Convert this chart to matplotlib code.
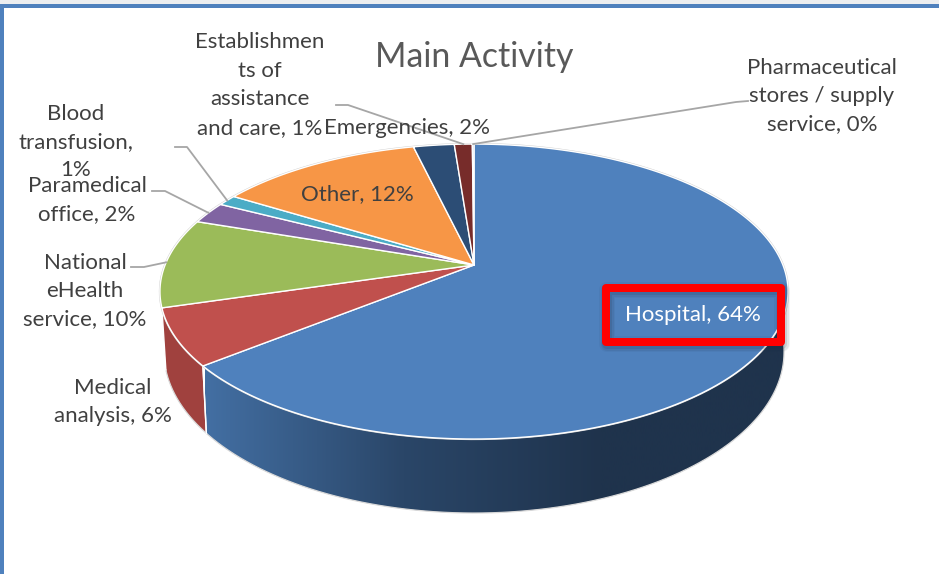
import numpy as np
import matplotlib
matplotlib.use('Agg')
import matplotlib.pyplot as plt
from matplotlib.colors import LinearSegmentedColormap
from matplotlib.patches import Polygon, Rectangle

plt.rcParams['font.family'] = ['Lato', 'DejaVu Sans']

# slices, clockwise from 12 o'clock
labels = ['Hospital, 64%', 'Medical\nanalysis, 6%', 'National\neHealth\nservice, 10%',
          'Paramedical\noffice, 2%', 'Blood\ntransfusion,\n1%', 'Other, 12%', 'Emergencies, 2%',
          'Establishmen\nts of\nassistance\nand care, 1%', 'Pharmaceutical\nstores / supply\nservice, 0%']
values = [64.2, 6.2, 9.8, 2.4, 1.2, 12.5, 2.5, 1.1, 0.1]
colors = ['#4f81bd', '#c0504d', '#9bbb59', '#8064a2', '#4bacc6', '#f79646', '#2c4d75', '#772c2a', '#a8c0de']
wall_colors = ['#4f81bd', '#a0413e', '#7f9a48', '#6a5285', '#3e8ea3', '#cc7a38', '#243f60', '#622422', '#8aa0bc']

# label centres and leader elbows, in pixels
label_pos = [(693, 315), (113, 402), (85, 291), (87, 200), (76, 142), (357, 194), (407, 128), (260, 85), (822, 96)]
leaders = {2: [(131, 267), (144, 267)], 3: [(152, 191), (165, 191)], 4: [(175, 147), (187, 147)],
           7: [(336, 105), (348, 105)], 8: [(748, 101), (736, 102)]}

W, H = 939, 574
CX, CY = 474, 265
PERSP = 0.18


def rim(theta):
    # point of the top disc for a clockwise angle from 12 o'clock, with some perspective
    u, v = np.sin(theta), np.cos(theta)
    d = 1 + PERSP * v
    return CX + 308.9 * u / d, CY - 142.7 * v / d


def lower(x, y):
    # same rim point on the bottom disc
    return CX + (x - CX) * 310 / 314, 352 + (y - 291.5) * 161 / 147.5


fractions = np.array(values) / sum(values)
edges = np.concatenate([[0], np.cumsum(fractions)]) * 2 * np.pi

fig = plt.figure(figsize=(W / 100, H / 100), dpi=100)
ax = fig.add_axes([0, 0, 1, 1])
ax.axis('off')

# page border
ax.add_patch(Rectangle((0, 0), W, 4, color='#eceef0', lw=0))
ax.add_patch(Rectangle((0, 4), W, 4, color='#4f81bd', lw=0))
ax.add_patch(Rectangle((0, 4), 4, H, color='#4f81bd', lw=0))

# side wall, only the part facing us
front_start, front_end = np.pi / 2 - 0.1, edges[2]
for i in range(2):
    a = max(edges[i], front_start)
    b = min(edges[i + 1], front_end)
    t = np.linspace(a, b, 200)
    x, y = rim(t)
    xb, yb = lower(x, y)
    pts = np.column_stack([np.concatenate([x, xb[::-1]]), np.concatenate([y, yb[::-1]])])
    if i == 0:
        grad = LinearSegmentedColormap.from_list('wall', ['#436fa3', '#2a4668', '#1f334c', '#1f334c'])
        poly = Polygon(pts, closed=True, facecolor='none', edgecolor='none')
        ax.add_patch(poly)
        im = ax.imshow(np.linspace(0, 1, 256).reshape(1, -1), cmap=grad, aspect='auto',
                       extent=(205, 800, H, 0), zorder=1)
        im.set_clip_path(poly)
    else:
        ax.add_patch(Polygon(pts, closed=True, facecolor=wall_colors[i], edgecolor='none', zorder=1))
    ax.plot(xb, yb, color='#d9d9d9', lw=0.9, zorder=1.5)
    ax.plot([x[0], xb[0]], [y[0], yb[0]], color='white', lw=1.0, zorder=1.5)
    ax.plot([x[-1], xb[-1]], [y[-1], yb[-1]], color='white', lw=1.0, zorder=1.5)

# outer hairline and top slices
t = np.linspace(0, 2 * np.pi, 400)
ax.plot(*rim(t), color='#cfcfcf', lw=1.6, zorder=1.8)
for i in range(len(values)):
    t = np.linspace(edges[i], edges[i + 1], 200)
    x, y = rim(t)
    ax.fill(np.concatenate([[CX], x]), np.concatenate([[CY], y]), facecolor=colors[i],
            edgecolor='white', lw=1.0, joinstyle='round', zorder=2)

# leader lines end on the rim in the middle of their slice
for i, elbow in leaders.items():
    ex, ey = rim((edges[i] + edges[i + 1]) / 2)
    ax.plot([p[0] for p in elbow] + [ex], [p[1] for p in elbow] + [ey], color='#a6a6a6', lw=1.3, zorder=3)

# highlighted box with soft shadow
box = (606, 288, 175, 53.5)
for grow, alpha in [(8, 0.05), (5, 0.08), (2, 0.12)]:
    ax.add_patch(Rectangle((box[0] + 1, box[1] + 2), box[2], box[3], facecolor='none', edgecolor='#1a2a40',
                           lw=(8 + grow) * 0.72, alpha=alpha, joinstyle='round', zorder=3))
ax.add_patch(Rectangle(box[:2], box[2], box[3], facecolor='none', edgecolor='#ff0000', lw=5.76,
                       joinstyle='round', zorder=4))

for i, text in enumerate(labels):
    ax.text(label_pos[i][0], label_pos[i][1], text, ha='center', va='center', ma='center', fontsize=16.0,
            linespacing=1.53, color='white' if i == 0 else '#404040', zorder=5)

ax.text(474, 57, 'Main Activity', ha='center', va='center', fontsize=24.4, color='#595959', zorder=5)

ax.set_xlim(0, W)
ax.set_ylim(H, 0)
fig.savefig('out.png', dpi=100)
